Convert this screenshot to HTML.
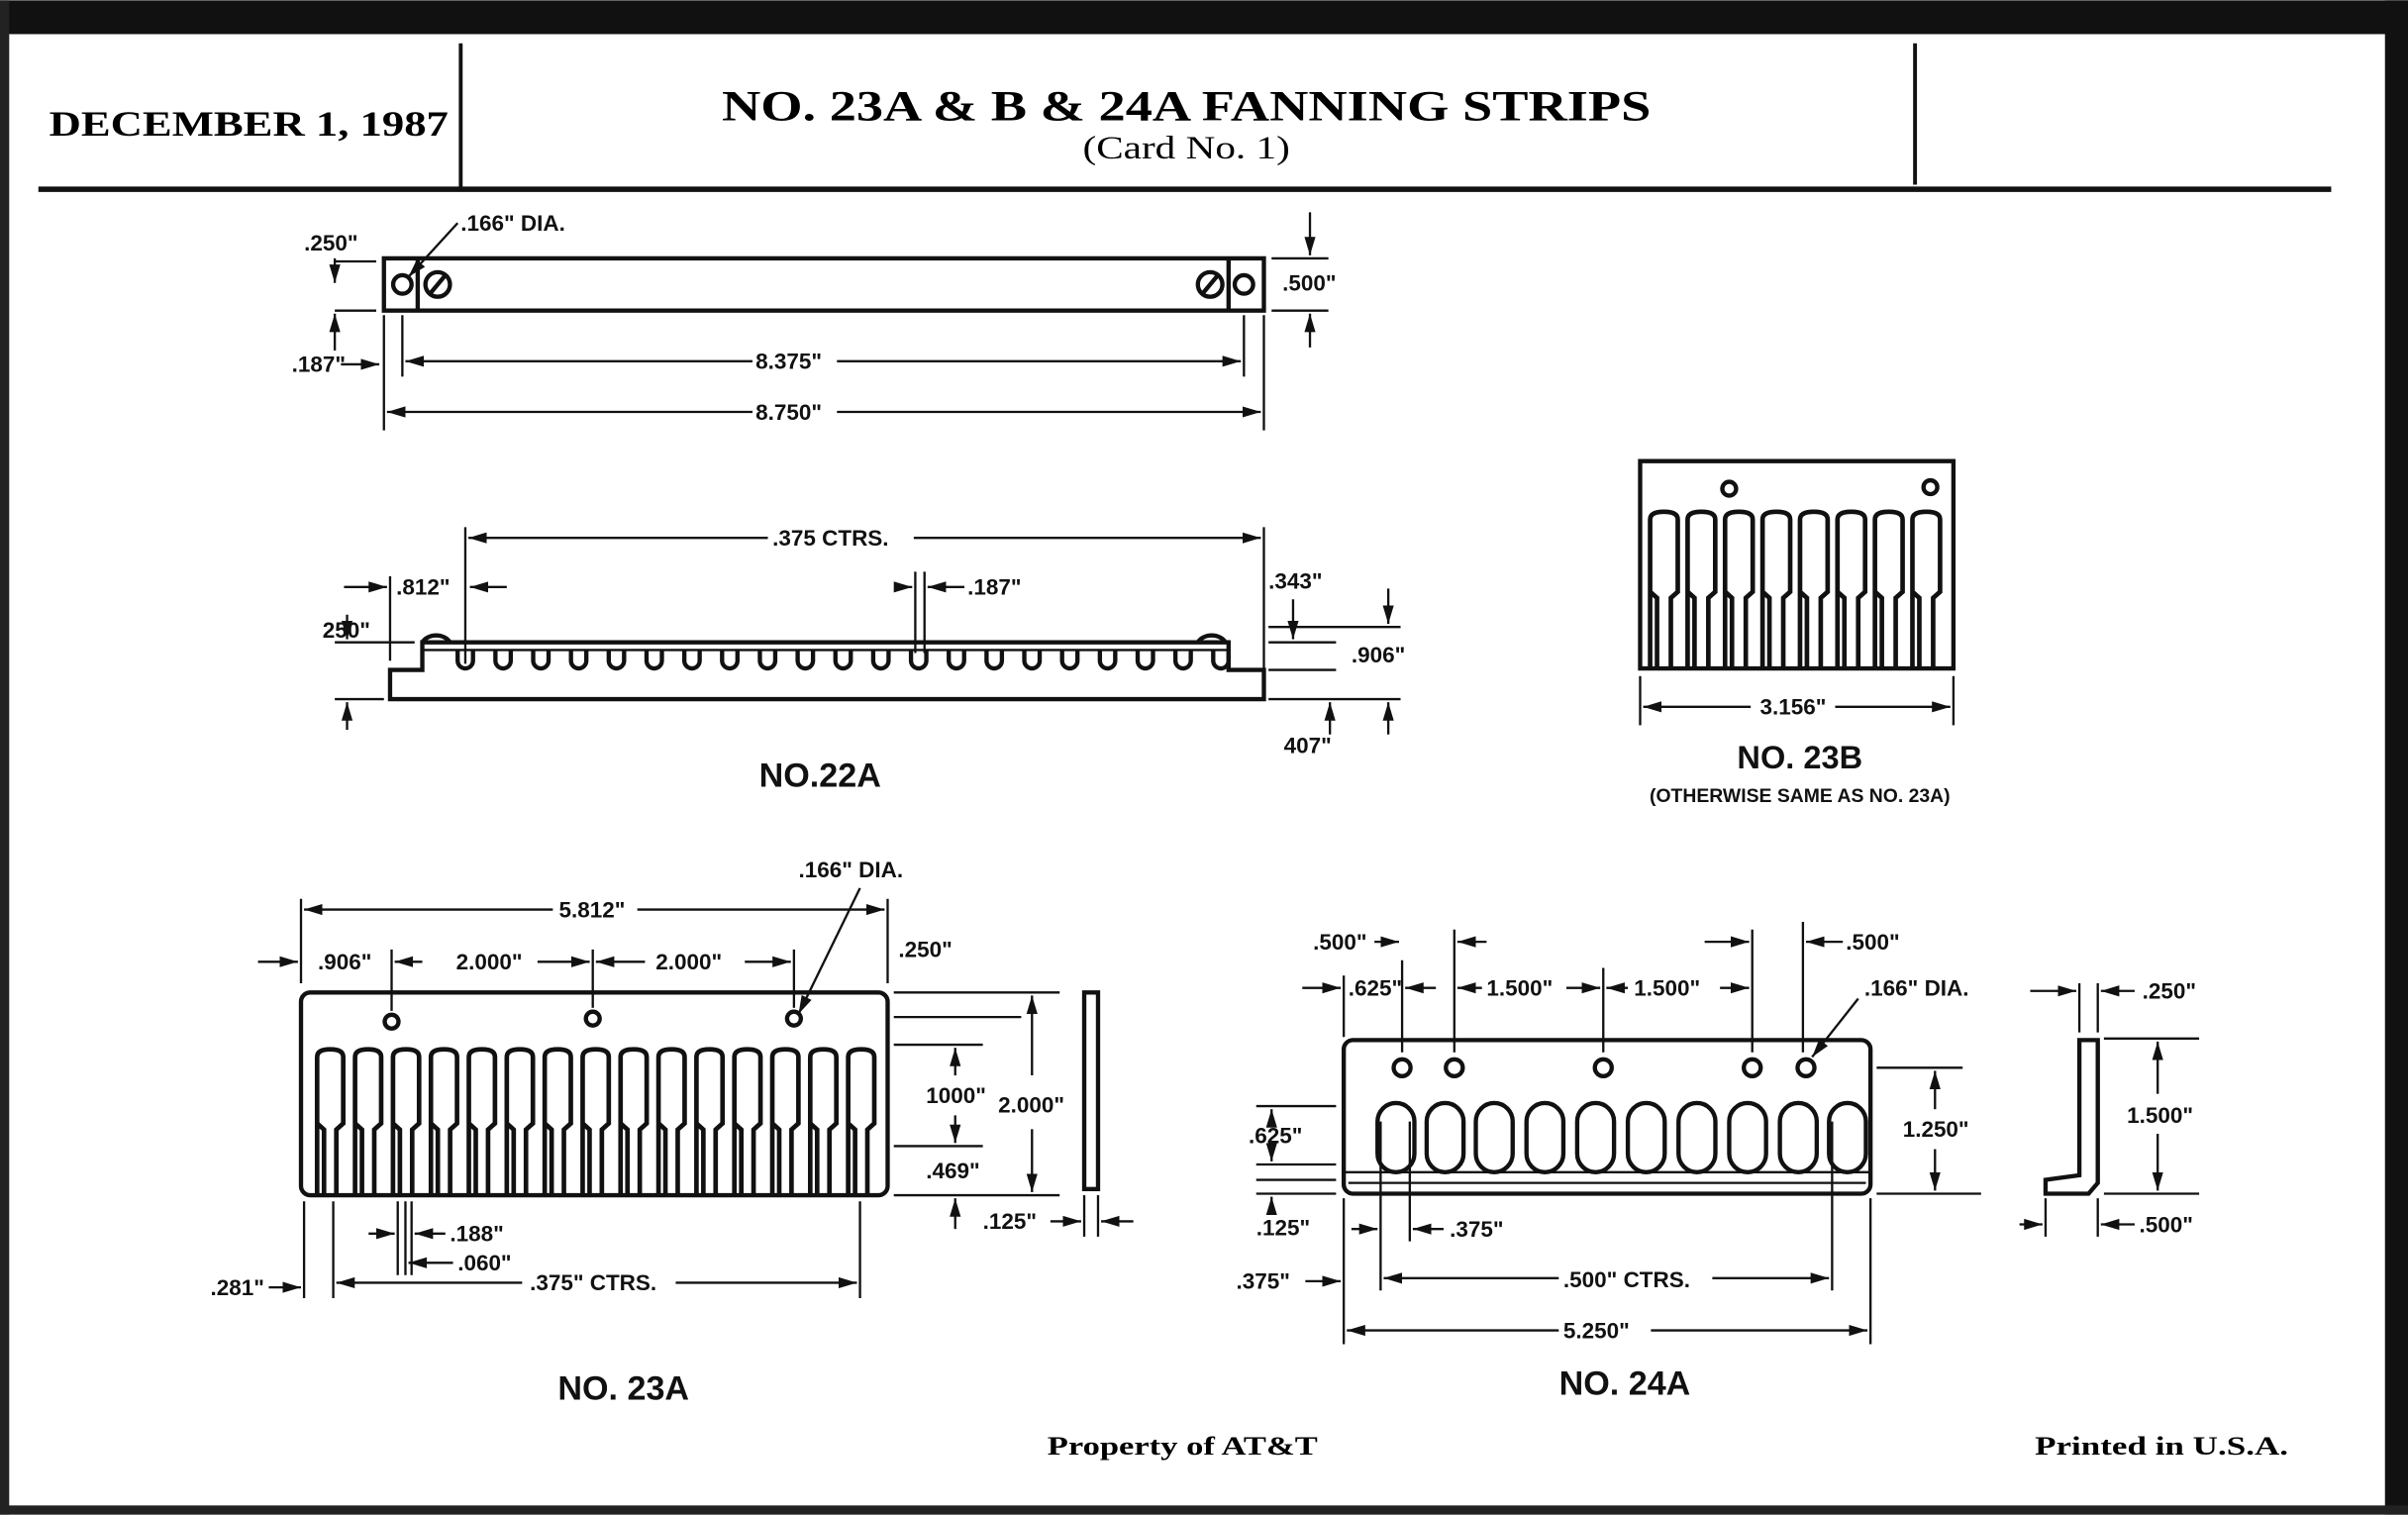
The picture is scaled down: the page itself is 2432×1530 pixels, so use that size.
<!DOCTYPE html>
<html><head><meta charset="utf-8"><style>
html,body{margin:0;padding:0;background:#fff;}
svg{display:block}
.s{font-family:"Liberation Serif",serif;font-weight:bold;}
.a{font-family:"Liberation Sans",sans-serif;font-weight:bold;}
</style></head><body>
<svg id="d" width="2432" height="1530" viewBox="0 0 1568 986" xmlns="http://www.w3.org/2000/svg">
<defs><marker id="ar" viewBox="0 0 10 10" refX="10" refY="5" markerWidth="8" markerHeight="8" orient="auto-start-reverse"><path d="M0,2 L10,5 L0,8 z" fill="#111"/></marker></defs>
<rect width="1568" height="986" fill="#fff"/>
<rect x="0" y="0" width="1568" height="22" fill="#111"/>
<rect x="0" y="0" width="6" height="986" fill="#222"/>
<rect x="1553" y="0" width="15" height="986" fill="#111"/>
<rect x="0" y="980" width="1568" height="6" fill="#222"/>
<g stroke="#111" fill="none" stroke-width="2.5">
<line x1="300" y1="28" x2="300" y2="122"/><line x1="1247" y1="28" x2="1247" y2="120"/>
<line x1="25" y1="123" x2="1518" y2="123" stroke-width="3.5"/>
</g>
<text class="s" x="32" y="88" font-size="23" textLength="260" lengthAdjust="spacingAndGlyphs">DECEMBER 1, 1987</text>
<text class="s" x="470" y="78" font-size="28" textLength="605" lengthAdjust="spacingAndGlyphs">NO. 23A &amp; B &amp; 24A FANNING STRIPS</text>
<text x="705" y="103" font-size="21" textLength="135" lengthAdjust="spacingAndGlyphs" font-family="Liberation Serif,serif">(Card No. 1)</text>
<text class="s" x="682" y="947" font-size="17" textLength="176" lengthAdjust="spacingAndGlyphs">Property of AT&amp;T</text>
<text class="s" x="1325" y="947" font-size="17" textLength="165" lengthAdjust="spacingAndGlyphs">Printed in U.S.A.</text>

<g id="g" stroke="#111" fill="none" stroke-width="2.8">
<rect x="250" y="168" width="573" height="34"/>
<line x1="272" y1="168" x2="272" y2="202"/><line x1="800" y1="168" x2="800" y2="202"/>
<circle cx="262" cy="185" r="6"/><circle cx="810" cy="185" r="6"/>
<circle cx="285" cy="185" r="8"/><line x1="280" y1="191" x2="290" y2="179"/>
<circle cx="788" cy="185" r="8"/><line x1="783" y1="191" x2="793" y2="179"/>
<line x1="250" y1="205" x2="250" y2="280" stroke-width="1.5"/><line x1="823" y1="205" x2="823" y2="280" stroke-width="1.5"/>
<line x1="262" y1="205" x2="262" y2="245" stroke-width="1.5"/><line x1="810" y1="205" x2="810" y2="245" stroke-width="1.5"/>
<line x1="264" y1="235" x2="490" y2="235" stroke-width="1.5" marker-start="url(#ar)"/><line x1="545" y1="235" x2="808" y2="235" stroke-width="1.5" marker-end="url(#ar)"/>
<line x1="252" y1="268" x2="490" y2="268" stroke-width="1.5" marker-start="url(#ar)"/><line x1="545" y1="268" x2="821" y2="268" stroke-width="1.5" marker-end="url(#ar)"/>
<line x1="218" y1="170" x2="245" y2="170" stroke-width="1.5"/><line x1="218" y1="202" x2="245" y2="202" stroke-width="1.5"/>
<line x1="218" y1="168" x2="218" y2="184" stroke-width="1.5" marker-end="url(#ar)"/><line x1="218" y1="228" x2="218" y2="204" stroke-width="1.5" marker-end="url(#ar)"/>
<line x1="222" y1="237" x2="247" y2="237" stroke-width="1.5" marker-end="url(#ar)"/>
<line x1="298" y1="145" x2="266" y2="180" stroke-width="1.5" marker-end="url(#ar)"/>
<line x1="828" y1="168" x2="865" y2="168" stroke-width="1.5"/><line x1="828" y1="202" x2="865" y2="202" stroke-width="1.5"/>
<line x1="853" y1="138" x2="853" y2="166" stroke-width="1.5" marker-end="url(#ar)"/><line x1="853" y1="226" x2="853" y2="204" stroke-width="1.5" marker-end="url(#ar)"/>

<path d="M254,455 L823,455 L823,436 L800,436 L800,418 L275,418 L275,436 L254,436 Z"/>
<line x1="275" y1="423" x2="800" y2="423" stroke-width="1.5"/>
<path d="M275,418 a10,8 0 0 1 18,0"/><path d="M780,418 a10,8 0 0 1 18,0"/>
<line x1="303" y1="343" x2="303" y2="432" stroke-width="1.5"/><line x1="823" y1="343" x2="823" y2="436" stroke-width="1.5"/>
<line x1="305" y1="350" x2="500" y2="350" stroke-width="1.5" marker-start="url(#ar)"/><line x1="595" y1="350" x2="821" y2="350" stroke-width="1.5" marker-end="url(#ar)"/>
<line x1="224" y1="382" x2="252" y2="382" stroke-width="1.5" marker-end="url(#ar)"/><line x1="330" y1="382" x2="306" y2="382" stroke-width="1.5" marker-end="url(#ar)"/>
<line x1="254" y1="375" x2="254" y2="430" stroke-width="1.5"/>
<line x1="590" y1="382" x2="594" y2="382" stroke-width="1.5" marker-end="url(#ar)"/><line x1="628" y1="382" x2="604" y2="382" stroke-width="1.5" marker-end="url(#ar)"/>
<line x1="596" y1="372" x2="596" y2="425" stroke-width="1.5"/><line x1="602" y1="372" x2="602" y2="425" stroke-width="1.5"/>
<line x1="218" y1="418" x2="270" y2="418" stroke-width="1.5"/><line x1="218" y1="455" x2="250" y2="455" stroke-width="1.5"/>
<line x1="226" y1="400" x2="226" y2="416" stroke-width="1.5" marker-end="url(#ar)"/><line x1="226" y1="475" x2="226" y2="457" stroke-width="1.5" marker-end="url(#ar)"/>
<line x1="826" y1="408" x2="912" y2="408" stroke-width="1.5"/><line x1="826" y1="418" x2="870" y2="418" stroke-width="1.5"/>
<line x1="826" y1="436" x2="870" y2="436" stroke-width="1.5"/><line x1="826" y1="455" x2="912" y2="455" stroke-width="1.5"/>
<line x1="842" y1="390" x2="842" y2="416" stroke-width="1.5" marker-end="url(#ar)"/>
<line x1="904" y1="383" x2="904" y2="406" stroke-width="1.5" marker-end="url(#ar)"/><line x1="904" y1="478" x2="904" y2="457" stroke-width="1.5" marker-end="url(#ar)"/>
<line x1="866" y1="478" x2="866" y2="457" stroke-width="1.5" marker-end="url(#ar)"/>

<path d="M1068,300 L1272,300 L1272,435 L1068,435 Z"/>
<circle cx="1126" cy="318" r="4.5"/><circle cx="1257" cy="317" r="4.5"/>
<line x1="1068" y1="440" x2="1068" y2="472" stroke-width="1.5"/><line x1="1272" y1="440" x2="1272" y2="472" stroke-width="1.5"/>
<line x1="1070" y1="460" x2="1140" y2="460" stroke-width="1.5" marker-start="url(#ar)"/><line x1="1195" y1="460" x2="1270" y2="460" stroke-width="1.5" marker-end="url(#ar)"/>

<rect x="196" y="646" width="382" height="132" rx="6"/>
<circle cx="255" cy="665" r="4.5"/><circle cx="386" cy="663" r="4.5"/><circle cx="517" cy="663" r="4.5"/>
<line x1="196" y1="585" x2="196" y2="640" stroke-width="1.5"/><line x1="578" y1="585" x2="578" y2="640" stroke-width="1.5"/>
<line x1="198" y1="592" x2="360" y2="592" stroke-width="1.5" marker-start="url(#ar)"/><line x1="415" y1="592" x2="576" y2="592" stroke-width="1.5" marker-end="url(#ar)"/>
<line x1="255" y1="618" x2="255" y2="658" stroke-width="1.5"/><line x1="386" y1="618" x2="386" y2="656" stroke-width="1.5"/><line x1="517" y1="618" x2="517" y2="656" stroke-width="1.5"/>
<line x1="168" y1="626" x2="194" y2="626" stroke-width="1.5" marker-end="url(#ar)"/><line x1="275" y1="626" x2="257" y2="626" stroke-width="1.5" marker-end="url(#ar)"/>
<line x1="350" y1="626" x2="384" y2="626" stroke-width="1.5" marker-end="url(#ar)"/><line x1="420" y1="626" x2="388" y2="626" stroke-width="1.5" marker-end="url(#ar)"/>
<line x1="485" y1="626" x2="515" y2="626" stroke-width="1.5" marker-end="url(#ar)"/>
<line x1="560" y1="578" x2="520" y2="660" stroke-width="1.5" marker-end="url(#ar)"/>
<line x1="582" y1="646" x2="690" y2="646" stroke-width="1.5"/><line x1="582" y1="662" x2="665" y2="662" stroke-width="1.5"/>
<line x1="582" y1="680" x2="640" y2="680" stroke-width="1.5"/><line x1="582" y1="746" x2="640" y2="746" stroke-width="1.5"/>
<line x1="582" y1="778" x2="690" y2="778" stroke-width="1.5"/>
<line x1="622" y1="700" x2="622" y2="682" stroke-width="1.5" marker-end="url(#ar)"/><line x1="622" y1="726" x2="622" y2="744" stroke-width="1.5" marker-end="url(#ar)"/>
<line x1="672" y1="700" x2="672" y2="648" stroke-width="1.5" marker-end="url(#ar)"/><line x1="672" y1="735" x2="672" y2="776" stroke-width="1.5" marker-end="url(#ar)"/>
<line x1="622" y1="800" x2="622" y2="780" stroke-width="1.5" marker-end="url(#ar)"/>
<rect x="706" y="646" width="9" height="128"/>
<line x1="706" y1="778" x2="706" y2="805" stroke-width="1.5"/><line x1="715" y1="778" x2="715" y2="805" stroke-width="1.5"/>
<line x1="684" y1="795" x2="704" y2="795" stroke-width="1.5" marker-end="url(#ar)"/><line x1="738" y1="795" x2="717" y2="795" stroke-width="1.5" marker-end="url(#ar)"/>
<line x1="198" y1="782" x2="198" y2="845" stroke-width="1.5"/><line x1="217" y1="782" x2="217" y2="845" stroke-width="1.5"/>
<line x1="560" y1="782" x2="560" y2="845" stroke-width="1.5"/>
<line x1="175" y1="838" x2="196" y2="838" stroke-width="1.5" marker-end="url(#ar)"/>
<line x1="219" y1="835" x2="340" y2="835" stroke-width="1.5" marker-start="url(#ar)"/><line x1="440" y1="835" x2="558" y2="835" stroke-width="1.5" marker-end="url(#ar)"/>
<line x1="259" y1="782" x2="259" y2="830" stroke-width="1.5"/><line x1="264" y1="782" x2="264" y2="830" stroke-width="1.5"/><line x1="268" y1="782" x2="268" y2="830" stroke-width="1.5"/>
<line x1="240" y1="803" x2="257" y2="803" stroke-width="1.5" marker-end="url(#ar)"/><line x1="290" y1="803" x2="270" y2="803" stroke-width="1.5" marker-end="url(#ar)"/>
<line x1="295" y1="822" x2="266" y2="822" stroke-width="1.5" marker-end="url(#ar)"/>

<rect x="875" y="677" width="343" height="100" rx="6"/>
<line x1="875" y1="763" x2="1218" y2="763" stroke-width="1.5"/><line x1="878" y1="770" x2="1215" y2="770" stroke-width="1.5"/>
<line x1="913" y1="625" x2="913" y2="685" stroke-width="1.5"/><line x1="947" y1="605" x2="947" y2="685" stroke-width="1.5"/>
<line x1="1044" y1="630" x2="1044" y2="685" stroke-width="1.5"/><line x1="1141" y1="605" x2="1141" y2="685" stroke-width="1.5"/><line x1="1174" y1="600" x2="1174" y2="685" stroke-width="1.5"/>
<line x1="895" y1="613" x2="911" y2="613" stroke-width="1.5" marker-end="url(#ar)"/><line x1="968" y1="613" x2="949" y2="613" stroke-width="1.5" marker-end="url(#ar)"/>
<line x1="1110" y1="613" x2="1139" y2="613" stroke-width="1.5" marker-end="url(#ar)"/><line x1="1200" y1="613" x2="1176" y2="613" stroke-width="1.5" marker-end="url(#ar)"/>
<line x1="848" y1="643" x2="873" y2="643" stroke-width="1.5" marker-end="url(#ar)"/><line x1="875" y1="635" x2="875" y2="675" stroke-width="1.5"/>
<line x1="935" y1="643" x2="915" y2="643" stroke-width="1.5" marker-end="url(#ar)"/>
<line x1="949" y1="643" x2="965" y2="643" stroke-width="1.5" marker-start="url(#ar)"/><line x1="1020" y1="643" x2="1042" y2="643" stroke-width="1.5" marker-end="url(#ar)"/>
<line x1="1046" y1="643" x2="1060" y2="643" stroke-width="1.5" marker-start="url(#ar)"/><line x1="1120" y1="643" x2="1139" y2="643" stroke-width="1.5" marker-end="url(#ar)"/>
<line x1="1210" y1="650" x2="1180" y2="688" stroke-width="1.5" marker-end="url(#ar)"/>
<line x1="1222" y1="695" x2="1278" y2="695" stroke-width="1.5"/><line x1="1222" y1="777" x2="1290" y2="777" stroke-width="1.5"/>
<line x1="1260" y1="722" x2="1260" y2="697" stroke-width="1.5" marker-end="url(#ar)"/><line x1="1260" y1="748" x2="1260" y2="775" stroke-width="1.5" marker-end="url(#ar)"/>
<line x1="818" y1="720" x2="870" y2="720" stroke-width="1.5"/><line x1="818" y1="758" x2="870" y2="758" stroke-width="1.5"/>
<line x1="818" y1="768" x2="870" y2="768" stroke-width="1.5"/><line x1="818" y1="777" x2="870" y2="777" stroke-width="1.5"/>
<line x1="828" y1="730" x2="828" y2="722" stroke-width="1.5" marker-end="url(#ar)"/><line x1="828" y1="746" x2="828" y2="756" stroke-width="1.5" marker-end="url(#ar)"/>
<line x1="828" y1="790" x2="828" y2="779" stroke-width="1.5" marker-end="url(#ar)"/>
<line x1="875" y1="780" x2="875" y2="875" stroke-width="1.5"/><line x1="899" y1="730" x2="899" y2="840" stroke-width="1.5"/><line x1="918" y1="730" x2="918" y2="808" stroke-width="1.5"/>
<line x1="1193" y1="730" x2="1193" y2="840" stroke-width="1.5"/><line x1="1218" y1="780" x2="1218" y2="875" stroke-width="1.5"/>
<line x1="880" y1="800" x2="897" y2="800" stroke-width="1.5" marker-end="url(#ar)"/><line x1="940" y1="800" x2="920" y2="800" stroke-width="1.5" marker-end="url(#ar)"/>
<line x1="850" y1="834" x2="873" y2="834" stroke-width="1.5" marker-end="url(#ar)"/>
<line x1="901" y1="832" x2="1015" y2="832" stroke-width="1.5" marker-start="url(#ar)"/><line x1="1115" y1="832" x2="1191" y2="832" stroke-width="1.5" marker-end="url(#ar)"/>
<line x1="877" y1="866" x2="1015" y2="866" stroke-width="1.5" marker-start="url(#ar)"/><line x1="1075" y1="866" x2="1216" y2="866" stroke-width="1.5" marker-end="url(#ar)"/>
<path d="M1354,677 L1366,677 L1366,770 L1360,777 L1332,777 L1332,768 L1354,765 Z"/>
<line x1="1354" y1="640" x2="1354" y2="672" stroke-width="1.5"/><line x1="1366" y1="640" x2="1366" y2="672" stroke-width="1.5"/>
<line x1="1322" y1="645" x2="1352" y2="645" stroke-width="1.5" marker-end="url(#ar)"/><line x1="1390" y1="645" x2="1368" y2="645" stroke-width="1.5" marker-end="url(#ar)"/>
<line x1="1370" y1="676" x2="1432" y2="676" stroke-width="1.5"/><line x1="1370" y1="777" x2="1432" y2="777" stroke-width="1.5"/>
<line x1="1405" y1="712" x2="1405" y2="678" stroke-width="1.5" marker-end="url(#ar)"/><line x1="1405" y1="738" x2="1405" y2="775" stroke-width="1.5" marker-end="url(#ar)"/>
<line x1="1332" y1="780" x2="1332" y2="805" stroke-width="1.5"/><line x1="1366" y1="780" x2="1366" y2="805" stroke-width="1.5"/>
<line x1="1315" y1="797" x2="1330" y2="797" stroke-width="1.5" marker-end="url(#ar)"/><line x1="1390" y1="797" x2="1368" y2="797" stroke-width="1.5" marker-end="url(#ar)"/>
</g>

<g class="a" font-size="14.5" fill="#111">
<text x="300" y="150">.166" DIA.</text>
<text x="198" y="163">.250"</text><text x="190" y="242">.187"</text>
<text x="492" y="240">8.375"</text><text x="492" y="273">8.750"</text>
<text x="835" y="189">.500"</text>
<text x="503" y="355">.375 CTRS.</text>
<text x="258" y="387">.812"</text><text x="630" y="387">.187"</text>
<text x="210" y="415">250"</text><text x="826" y="383">.343"</text>
<text x="880" y="431">.906"</text><text x="836" y="490">407"</text>
<text x="534" y="512" font-size="22" text-anchor="middle">NO.22A</text>
<text x="1146" y="465">3.156"</text>
<text x="1172" y="500" font-size="21" text-anchor="middle">NO. 23B</text>
<text x="1172" y="522" font-size="12.5" text-anchor="middle">(OTHERWISE SAME AS NO. 23A)</text>
<text x="520" y="571">.166" DIA.</text>
<text x="364" y="597">5.812"</text>
<text x="207" y="631">.906"</text><text x="297" y="631">2.000"</text><text x="427" y="631">2.000"</text>
<text x="585" y="623">.250"</text>
<text x="603" y="718">1000"</text><text x="650" y="724">2.000"</text>
<text x="603" y="767">.469"</text><text x="640" y="800">.125"</text>
<text x="293" y="808">.188"</text><text x="298" y="827">.060"</text>
<text x="137" y="843">.281"</text><text x="345" y="840">.375" CTRS.</text>
<text x="406" y="911" font-size="22" text-anchor="middle">NO. 23A</text>
<text x="855" y="618">.500"</text><text x="1202" y="618">.500"</text>
<text x="878" y="648">.625"</text><text x="968" y="648">1.500"</text><text x="1064" y="648">1.500"</text>
<text x="1214" y="648">.166" DIA.</text>
<text x="1239" y="740">1.250"</text>
<text x="813" y="744">.625"</text><text x="818" y="804">.125"</text>
<text x="944" y="805">.375"</text>
<text x="805" y="839">.375"</text><text x="1018" y="838">.500" CTRS.</text>
<text x="1018" y="871">5.250"</text>
<text x="1058" y="908" font-size="22" text-anchor="middle">NO. 24A</text>
<text x="1395" y="650">.250"</text><text x="1385" y="731">1.500"</text><text x="1393" y="802">.500"</text>
</g>
</svg>
<script>
var NS="http://www.w3.org/2000/svg",g=document.getElementById("g");
function el(t,a){var e=document.createElementNS(NS,t);for(var k in a)e.setAttribute(k,a[k]);g.appendChild(e);return e;}
for(var i=0;i<21;i++){var x=298+i*24.6;el("path",{d:"M"+x+",423 L"+x+",430 a5,5 0 0 0 10,0 L"+(x+10)+",423"});}
function tooth(x,y0,y1,w,n){var c=x+w/2,nw=n/2,m=y0+(y1-y0)*0.55;
el("path",{"stroke-width":3,d:"M"+(c-w/2)+","+y1+" L"+(c-w/2)+","+(y0+5)+" Q"+(c-w/2)+","+y0+" "+c+","+y0+" Q"+(c+w/2)+","+y0+" "+(c+w/2)+","+(y0+5)+" L"+(c+w/2)+","+(m-4)+" L"+(c+nw)+","+m+" L"+(c+nw)+","+y1+" M"+(c-nw)+","+y1+" L"+(c-nw)+","+m+" L"+(c-w/2)+","+(m-4)});}
for(var i=0;i<15;i++)tooth(206.5+i*24.7,683,778,17,8);
for(var i=0;i<8;i++)tooth(1074.5+i*24.4,333,435,18,9);
var xs=[899,931,963,996,1029,1062,1095,1128,1161,1193];
for(var i=0;i<xs.length;i++){el("rect",{x:xs[i]-2,y:718,width:24,height:45,rx:12});}
[913,947,1044,1141,1176].forEach(function(x){el("circle",{cx:x,cy:695,r:5.5});});
</script>
</body></html>
